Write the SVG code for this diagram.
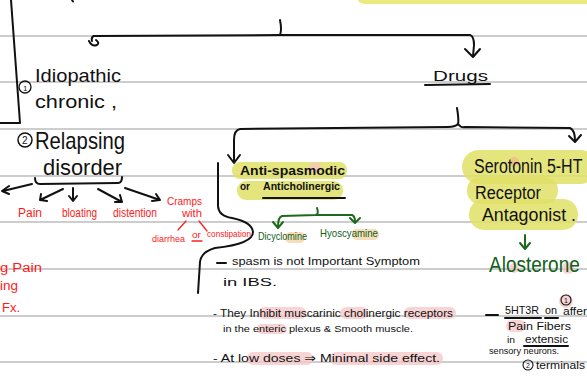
<svg xmlns="http://www.w3.org/2000/svg" width="587" height="376" viewBox="0 0 587 376">
<defs>
<style>
.rule{stroke:#cdcdcd;stroke-width:2}
.ink{fill:none;stroke:#111;stroke-width:2;stroke-linecap:round;stroke-linejoin:round}
.gink{fill:none;stroke:#1c6b1c;stroke-width:2;stroke-linecap:round;stroke-linejoin:round}
.rink{fill:none;stroke:#ff2020;stroke-width:1.3;stroke-linecap:round}
.t{font-family:"Liberation Sans","DejaVu Sans",sans-serif;fill:#111}
.r{font-family:"Liberation Sans","DejaVu Sans",sans-serif;fill:#ff1a1a}
.g{font-family:"Liberation Sans","DejaVu Sans",sans-serif;fill:#11601a}
.hy{fill:#e0e066;opacity:0.85}
.pk{fill:#f6c6c6;opacity:0.75}
</style>
</defs>
<rect width="587" height="376" fill="#fff"/>
<g id="rules">
<line class="rule" x1="0" y1="36" x2="587" y2="36"/>
<line class="rule" x1="0" y1="82" x2="587" y2="82"/>
<line class="rule" x1="0" y1="129" x2="587" y2="129"/>
<line class="rule" x1="0" y1="176" x2="587" y2="176"/>
<line class="rule" x1="0" y1="222" x2="587" y2="222"/>
<line class="rule" x1="0" y1="269" x2="587" y2="269"/>
<line class="rule" x1="0" y1="316" x2="587" y2="316"/>
<line class="rule" x1="0" y1="362" x2="587" y2="362"/>
</g>
<path d="M358,0 L587,0 L587,4 L366,4 Q358,3 358,0 Z" fill="#eaea7e"/>
<path class="ink" d="M11,0 L20,123 L0,123" stroke-width="1.5"/>
<path class="ink" d="M72,0 L73,1.5"/>

<g id="connectors">
<path class="ink" d="M280,20 Q282,30 280,35 L470,35 Q474,36 474,45 L473,56"/>
<path class="ink" d="M465,49 L473,57 L480,49"/>
<path class="ink" d="M280,35 L94,36 Q91,37 92,41"/>
<path class="ink" d="M89,41 Q92,47 97,45 Q100,43 96,40"/>
<path class="ink" d="M425,85 L490,84"/>
<path class="ink" d="M457,108 Q459,120 458,124 Q461,128 465,127 L570,128 Q575,130 575,141"/>
<path class="ink" d="M569,136 L575,142 L581,135"/>
<path class="ink" d="M458,124 Q455,127 448,127 L240,129 Q234,130 234,140 L234,162"/>
<path class="ink" d="M228,155 L234,163 L240,155"/>
<path class="ink" d="M35,178 Q35,184 40,184 L118,183 Q122,183 122,177"/>
<path class="ink" d="M32,184 L3,191 M9,186 L2,191 L9,194"/>
<path class="ink" d="M63,189 L40,200 M41,194 L40,200 L47,201"/>
<path class="ink" d="M73,188 L73,200 M69,196 L73,201 L77,196"/>
<path class="ink" d="M98,189 L122,202 M115,202 L122,202 L120,195"/>
<path class="ink" d="M125,188 L160,200 M152,201 L160,200 L156,194"/>
<path class="rink" d="M186,221 L178,230 M199,221 L207,231"/>
<path class="ink" d="M218,163 L218,205 Q218,216 232,218 Q252,222 253,232 Q253,244 215,248 Q201,252 200,262 L198,293" stroke-width="1.5"/>
<path class="gink" d="M317,208 Q319,214 316,215 L282,216 Q278,217 278,227"/>
<path class="gink" d="M273,222 L278,228 L283,222"/>
<path class="gink" d="M316,215 L352,215 Q355,216 355,222"/>
<path class="gink" d="M350,218 L355,223 L360,218"/>
<path class="gink" d="M525,235 L525,248 M520,243 L525,249 L530,243"/>
</g>

<g id="idiopathic">
<circle cx="25" cy="87" r="6" fill="none" stroke="#111" stroke-width="1.3"/>
<text class="t" x="23" y="91" font-size="8">1</text>
<text class="t" x="35" y="82" font-size="19" textLength="86" lengthAdjust="spacingAndGlyphs">Idiopathic</text>
<text class="t" x="35" y="108" font-size="19" textLength="82" lengthAdjust="spacingAndGlyphs">chronic ,</text>
</g>

<g id="relapsing">
<circle cx="25" cy="140" r="7" fill="none" stroke="#111" stroke-width="1.5"/>
<text class="t" x="22" y="144" font-size="10">2</text>
<text class="t" x="35" y="149" font-size="24" textLength="90" lengthAdjust="spacingAndGlyphs">Relapsing</text>
<text class="t" x="43" y="175" font-size="22" textLength="79" lengthAdjust="spacingAndGlyphs">disorder</text>
</g>

<g id="symptoms">
<text class="r" x="18" y="217" font-size="12" textLength="24" lengthAdjust="spacingAndGlyphs">Pain</text>
<text class="r" x="62" y="217" font-size="12" textLength="35" lengthAdjust="spacingAndGlyphs">bloating</text>
<text class="r" x="113" y="217" font-size="12" textLength="44" lengthAdjust="spacingAndGlyphs">distention</text>
<text class="r" x="167" y="205" font-size="11" textLength="35" lengthAdjust="spacingAndGlyphs">Cramps</text>
<text class="r" x="182" y="217" font-size="11" textLength="20" lengthAdjust="spacingAndGlyphs">with</text>
<text class="r" x="152" y="242" font-size="9" textLength="33" lengthAdjust="spacingAndGlyphs">diarrhea</text>
<text class="r" x="192" y="238" font-size="9" textLength="9" lengthAdjust="spacingAndGlyphs">or</text>
<line class="rink" x1="192" y1="241" x2="202" y2="241"/>
<text class="r" x="207" y="237" font-size="9" textLength="44" lengthAdjust="spacingAndGlyphs">constipation</text>
<text class="r" x="0" y="272" font-size="12" textLength="42" lengthAdjust="spacingAndGlyphs">g Pain</text>
<text class="r" x="0" y="290" font-size="12" textLength="18" lengthAdjust="spacingAndGlyphs">ing</text>
<text class="r" x="2" y="312" font-size="12" textLength="18" lengthAdjust="spacingAndGlyphs">Fx.</text>
</g>

<g id="drugs">
<text class="t" x="433" y="81" font-size="15" textLength="55" lengthAdjust="spacingAndGlyphs">Drugs</text>
</g>

<g id="antispasmodic">
<rect class="hy" x="232" y="162" width="115" height="17" rx="8"/>
<rect class="hy" x="237" y="181" width="106" height="19" rx="9"/>
<circle class="pk" cx="315" cy="168" r="6"/>
<text class="t" x="240" y="175" font-size="12" font-weight="bold" textLength="105" lengthAdjust="spacingAndGlyphs">Anti-spasmodic</text>
<text class="t" x="240" y="190" font-size="11" font-weight="bold" textLength="10" lengthAdjust="spacingAndGlyphs">or</text>
<text class="t" x="263" y="190" font-size="11" font-weight="bold" textLength="77" lengthAdjust="spacingAndGlyphs">Anticholinergic</text>
<line class="ink" x1="263" y1="198" x2="345" y2="198" stroke-width="1.5"/>
</g>

<g id="dicyclomine">
<rect x="285" y="232" width="20" height="11" rx="5" fill="#f3cf9c" opacity="0.7"/>
<text class="g" x="258" y="240" font-size="10.5" textLength="49" lengthAdjust="spacingAndGlyphs">Dicyclomine</text>
</g>
<g id="hyoscyamine">
<rect x="352" y="229" width="27" height="11" rx="5" fill="#f3cf9c" opacity="0.7"/>
<text class="g" x="320" y="237" font-size="10.5" textLength="58" lengthAdjust="spacingAndGlyphs">Hyoscyamine</text>
</g>

<g id="notes-left">
<rect class="pk" x="258" y="307" width="48" height="12" rx="6"/>
<rect class="pk" x="340" y="307" width="28" height="12" rx="6"/>
<rect class="pk" x="404" y="307" width="52" height="12" rx="6"/>
<rect class="pk" x="257" y="324" width="30" height="10" rx="5"/>
<rect class="pk" x="247" y="352" width="66" height="13" rx="6"/>
<rect class="pk" x="330" y="352" width="113" height="13" rx="6"/>
<line class="ink" x1="217" y1="263" x2="226" y2="263"/>
<text class="t" x="232" y="265" font-size="11.5" textLength="188" lengthAdjust="spacingAndGlyphs">spasm is not Important Symptom</text>
<text class="t" x="223" y="286" font-size="11.5" textLength="54" lengthAdjust="spacingAndGlyphs">in  IBS.</text>
<text class="t" x="213" y="317" font-size="11" textLength="240" lengthAdjust="spacingAndGlyphs">- They  Inhibit  muscarinic cholinergic receptors</text>
<text class="t" x="223" y="332" font-size="8.5" textLength="190" lengthAdjust="spacingAndGlyphs">in the enteric plexus &amp; Smooth muscle.</text>
<text class="t" x="213" y="362" font-size="11.5" textLength="227" lengthAdjust="spacingAndGlyphs">- At  low doses ⇒ Minimal side effect.</text>
</g>

<g id="serotonin">
<rect class="hy" x="462" y="150" width="135" height="34" rx="17"/>
<rect class="hy" x="467" y="177" width="91" height="27" rx="13"/>
<rect class="hy" x="469" y="199" width="109" height="31" rx="15"/>
<circle cx="514" cy="162" r="5" fill="#f0b08a" opacity="0.6"/>
<text class="t" transform="translate(474,173) scale(1,1.3)" x="0" y="0" font-size="16">Serotonin 5-HT</text>
<text class="t" x="475" y="199" font-size="18" textLength="66" lengthAdjust="spacingAndGlyphs">Receptor</text>
<text class="t" x="482" y="221" font-size="18" textLength="94" lengthAdjust="spacingAndGlyphs">Antagonist .</text>
</g>

<g id="alosterone">
<circle class="pk" cx="514" cy="268" r="5"/>
<circle class="pk" cx="568" cy="268" r="6"/>
<text class="g" transform="translate(489,272) scale(1,1.2)" x="0" y="0" font-size="19">Alosterone</text>
</g>

<g id="notes-right">
<circle class="pk" cx="566" cy="301" r="7"/>
<rect class="pk" x="506" y="320" width="20" height="12" rx="6"/>
<line class="ink" x1="486" y1="315" x2="498" y2="315"/>
<text class="t" x="505" y="314" font-size="11" textLength="34" lengthAdjust="spacingAndGlyphs">5HT3R</text>
<line class="ink" x1="505" y1="318" x2="541" y2="318" stroke-width="1.2"/>
<text class="t" x="545" y="314" font-size="11" textLength="12" lengthAdjust="spacingAndGlyphs">on</text>
<line class="ink" x1="545" y1="318" x2="558" y2="318" stroke-width="1.2"/>
<circle cx="566" cy="300" r="5" fill="none" stroke="#111" stroke-width="1.1"/>
<text class="t" x="564" y="302.5" font-size="7">1</text>
<text class="t" x="563" y="315" font-size="10" textLength="24" lengthAdjust="spacingAndGlyphs">affer</text>
<text class="t" x="508" y="330" font-size="11" textLength="63" lengthAdjust="spacingAndGlyphs">Pain  Fibers</text>
<text class="t" x="507" y="343" font-size="9" textLength="8" lengthAdjust="spacingAndGlyphs">in</text>
<text class="t" x="525" y="343" font-size="10" textLength="43" lengthAdjust="spacingAndGlyphs">extensic</text>
<line class="ink" x1="524" y1="346" x2="568" y2="346" stroke-width="1.2"/>
<text class="t" x="489" y="354" font-size="9.5" textLength="70" lengthAdjust="spacingAndGlyphs">sensory neurons.</text>
<circle cx="528" cy="365" r="5" fill="none" stroke="#111" stroke-width="1.1"/>
<text class="t" x="526" y="368" font-size="7">2</text>
<text class="t" x="536" y="369" font-size="11" textLength="49" lengthAdjust="spacingAndGlyphs">terminals</text>
</g>
</svg>
